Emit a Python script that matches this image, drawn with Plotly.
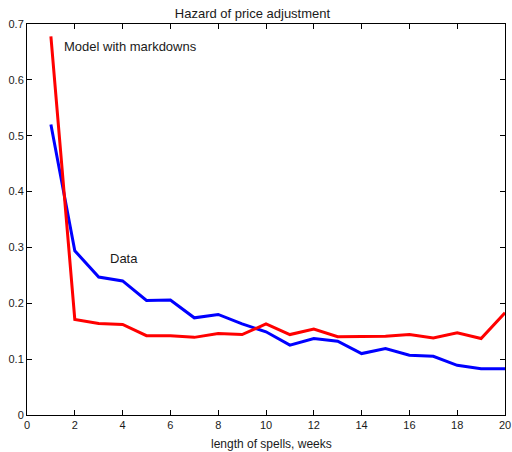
import plotly.graph_objects as go

weeks = list(range(1, 21))
data_hazard = [0.520, 0.294, 0.247, 0.240, 0.205, 0.206, 0.174, 0.180, 0.163, 0.149,
               0.125, 0.137, 0.132, 0.110, 0.119, 0.107, 0.105, 0.089, 0.083, 0.083]
model_hazard = [0.678, 0.171, 0.164, 0.162, 0.142, 0.142, 0.139, 0.146, 0.144, 0.163,
                0.144, 0.154, 0.140, 0.140, 0.141, 0.144, 0.138, 0.147, 0.137, 0.183]
x_ticks = list(range(0, 21, 2))
y_ticks = [0, 0.1, 0.2, 0.3, 0.4, 0.5, 0.6, 0.7]
y_tick_labels = ["0", "0.1", "0.2", "0.3", "0.4", "0.5", "0.6", "0.7"]

font = "Liberation Sans, Arial, sans-serif"
txt = "#1a1a1a"

fig = go.Figure()
fig.add_trace(go.Scatter(x=weeks, y=data_hazard, mode="lines",
                         line=dict(color="#0000ff", width=3), showlegend=False))
fig.add_trace(go.Scatter(x=weeks, y=model_hazard, mode="lines",
                         line=dict(color="#ff0000", width=3), showlegend=False))

fig.add_annotation(x=1.46, y=0.66, text="Model with markdowns", showarrow=False,
                   xanchor="left", yanchor="middle", font=dict(size=13, color=txt, family=font))
fig.add_annotation(x=3.39, y=0.281, text="Data", showarrow=False,
                   xanchor="left", yanchor="middle", font=dict(size=13, color=txt, family=font))
# x-axis label
fig.add_annotation(xref="paper", yref="paper", x=0.512, y=-0.0742,
                   text="length of spells, weeks", showarrow=False,
                   xanchor="center", yanchor="middle",
                   font=dict(size=12, color=txt, family=font))

axis_common = dict(showgrid=False, zeroline=False, showline=True, linecolor="black",
                   linewidth=1, mirror="ticks", ticks="inside", ticklen=5,
                   tickcolor="black", automargin=False,
                   tickfont=dict(size=11, color=txt, family=font))

fig.update_xaxes(range=[0, 20], tickvals=x_ticks, **axis_common)
fig.update_yaxes(range=[0, 0.7], tickvals=y_ticks, ticktext=y_tick_labels, **axis_common)

fig.update_layout(
    width=512, height=452,
    margin=dict(l=27, r=7, t=24, b=37, autoexpand=False),
    plot_bgcolor="white", paper_bgcolor="white",
    title=dict(text="Hazard of price adjustment", xref="paper", x=0.4717, xanchor="center",
               y=1 - 13/452, yanchor="middle", automargin=False,
               font=dict(size=13, color=txt, family=font)),
    font=dict(family=font),
)

fig.write_html("out.html")
